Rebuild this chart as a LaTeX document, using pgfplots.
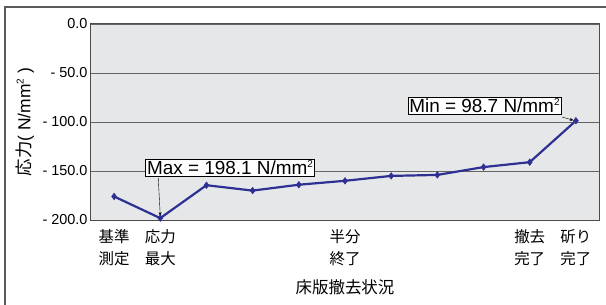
\documentclass[border=0pt]{standalone}
\usepackage{fontspec}
\setmainfont{Liberation Sans}
\newfontfamily\jp{Noto Sans CJK JP}
\usepackage{pgfplots}
\pgfplotsset{compat=1.18}
\usetikzlibrary{arrows.meta}
\definecolor{linecol}{RGB}{46,49,146}
\definecolor{bgcol}{RGB}{230,231,233}
\definecolor{gridcol}{RGB}{100,100,100}
\definecolor{framecol}{RGB}{90,90,90}
\newcommand{\sq}{\raisebox{0.75ex}{\fontsize{10}{10}\selectfont 2}}
\begin{document}
\begin{tikzpicture}
\path[use as bounding box] (-91bp,-85bp) rectangle (515bp,220bp);
\draw[framecol, line width=1.2bp] (-86bp,-86bp) -- (-86bp,213bp) -- (516bp,213bp);
\begin{axis}[
 at={(0,0)}, anchor=south west,
 scale only axis, width=508bp, height=196bp,
 xmin=-0.5, xmax=10.5, ymin=-200, ymax=0,
 axis background/.style={fill=bgcol},
 axis line style={draw=gray!60!black, line width=1bp},
 ytick={-200,-150,-100,-50,0},
 yticklabels={- 200.0,- 150.0,- 100.0,- 50.0,0.0},
 ymajorgrids, grid style={draw=gridcol, line width=0.8bp},
 xtick={0,1,5,9,10},
 xticklabels={基準\\測定, 応力\\最大, 半分\\終了, 撤去\\完了, 斫り\\完了},
 xticklabel style={font=\jp\fontsize{15.5}{22}\selectfont, align=center, yshift=-6bp},
 yticklabel style={font=\fontsize{14.5}{16}\selectfont},
 major tick length=0pt,
 xlabel={\jp 床版撤去状況},
 x label style={font=\fontsize{16.5}{18}\selectfont, at={(axis description cs:0.5,-0.342)}, anchor=center},
 ylabel={{\jp 応力}( N/mm\sq{} )},
 y label style={font=\fontsize{17.5}{18}\selectfont, at={(axis description cs:-0.13,0.5)}, anchor=center},
 clip=false,
]
\addplot[linecol, line width=2.2bp, mark=diamond*, mark size=3.3bp, mark options={fill=linecol, line width=0.5bp}]
 coordinates {(0,-176) (1,-198.1) (2,-164.5) (3,-170) (4,-164) (5,-160) (6,-155) (7,-154) (8,-146) (9,-141) (10,-98.7)};
\draw[-{Stealth[length=4bp,width=3bp]}, black, line width=0.4bp] (axis cs:0.957,-157.4) -- (axis cs:1,-196);
\node[draw=black, fill=white, inner sep=1.5bp, line width=0.5bp, font=\fontsize{19}{20}\selectfont] at (axis cs:2.51,-146.7) {Max = 198.1 N/mm\sq};
\draw[-{Stealth[length=4bp,width=3bp]}, black, line width=0.4bp] (axis cs:9.70,-94.9) -- (axis cs:9.95,-98.3);
\node[draw=black, fill=white, inner sep=1.5bp, line width=0.5bp, font=\fontsize{19}{20}\selectfont] at (axis cs:8.02,-83.4) {Min = 98.7 N/mm\sq};
\end{axis}
\end{tikzpicture}
\end{document}
